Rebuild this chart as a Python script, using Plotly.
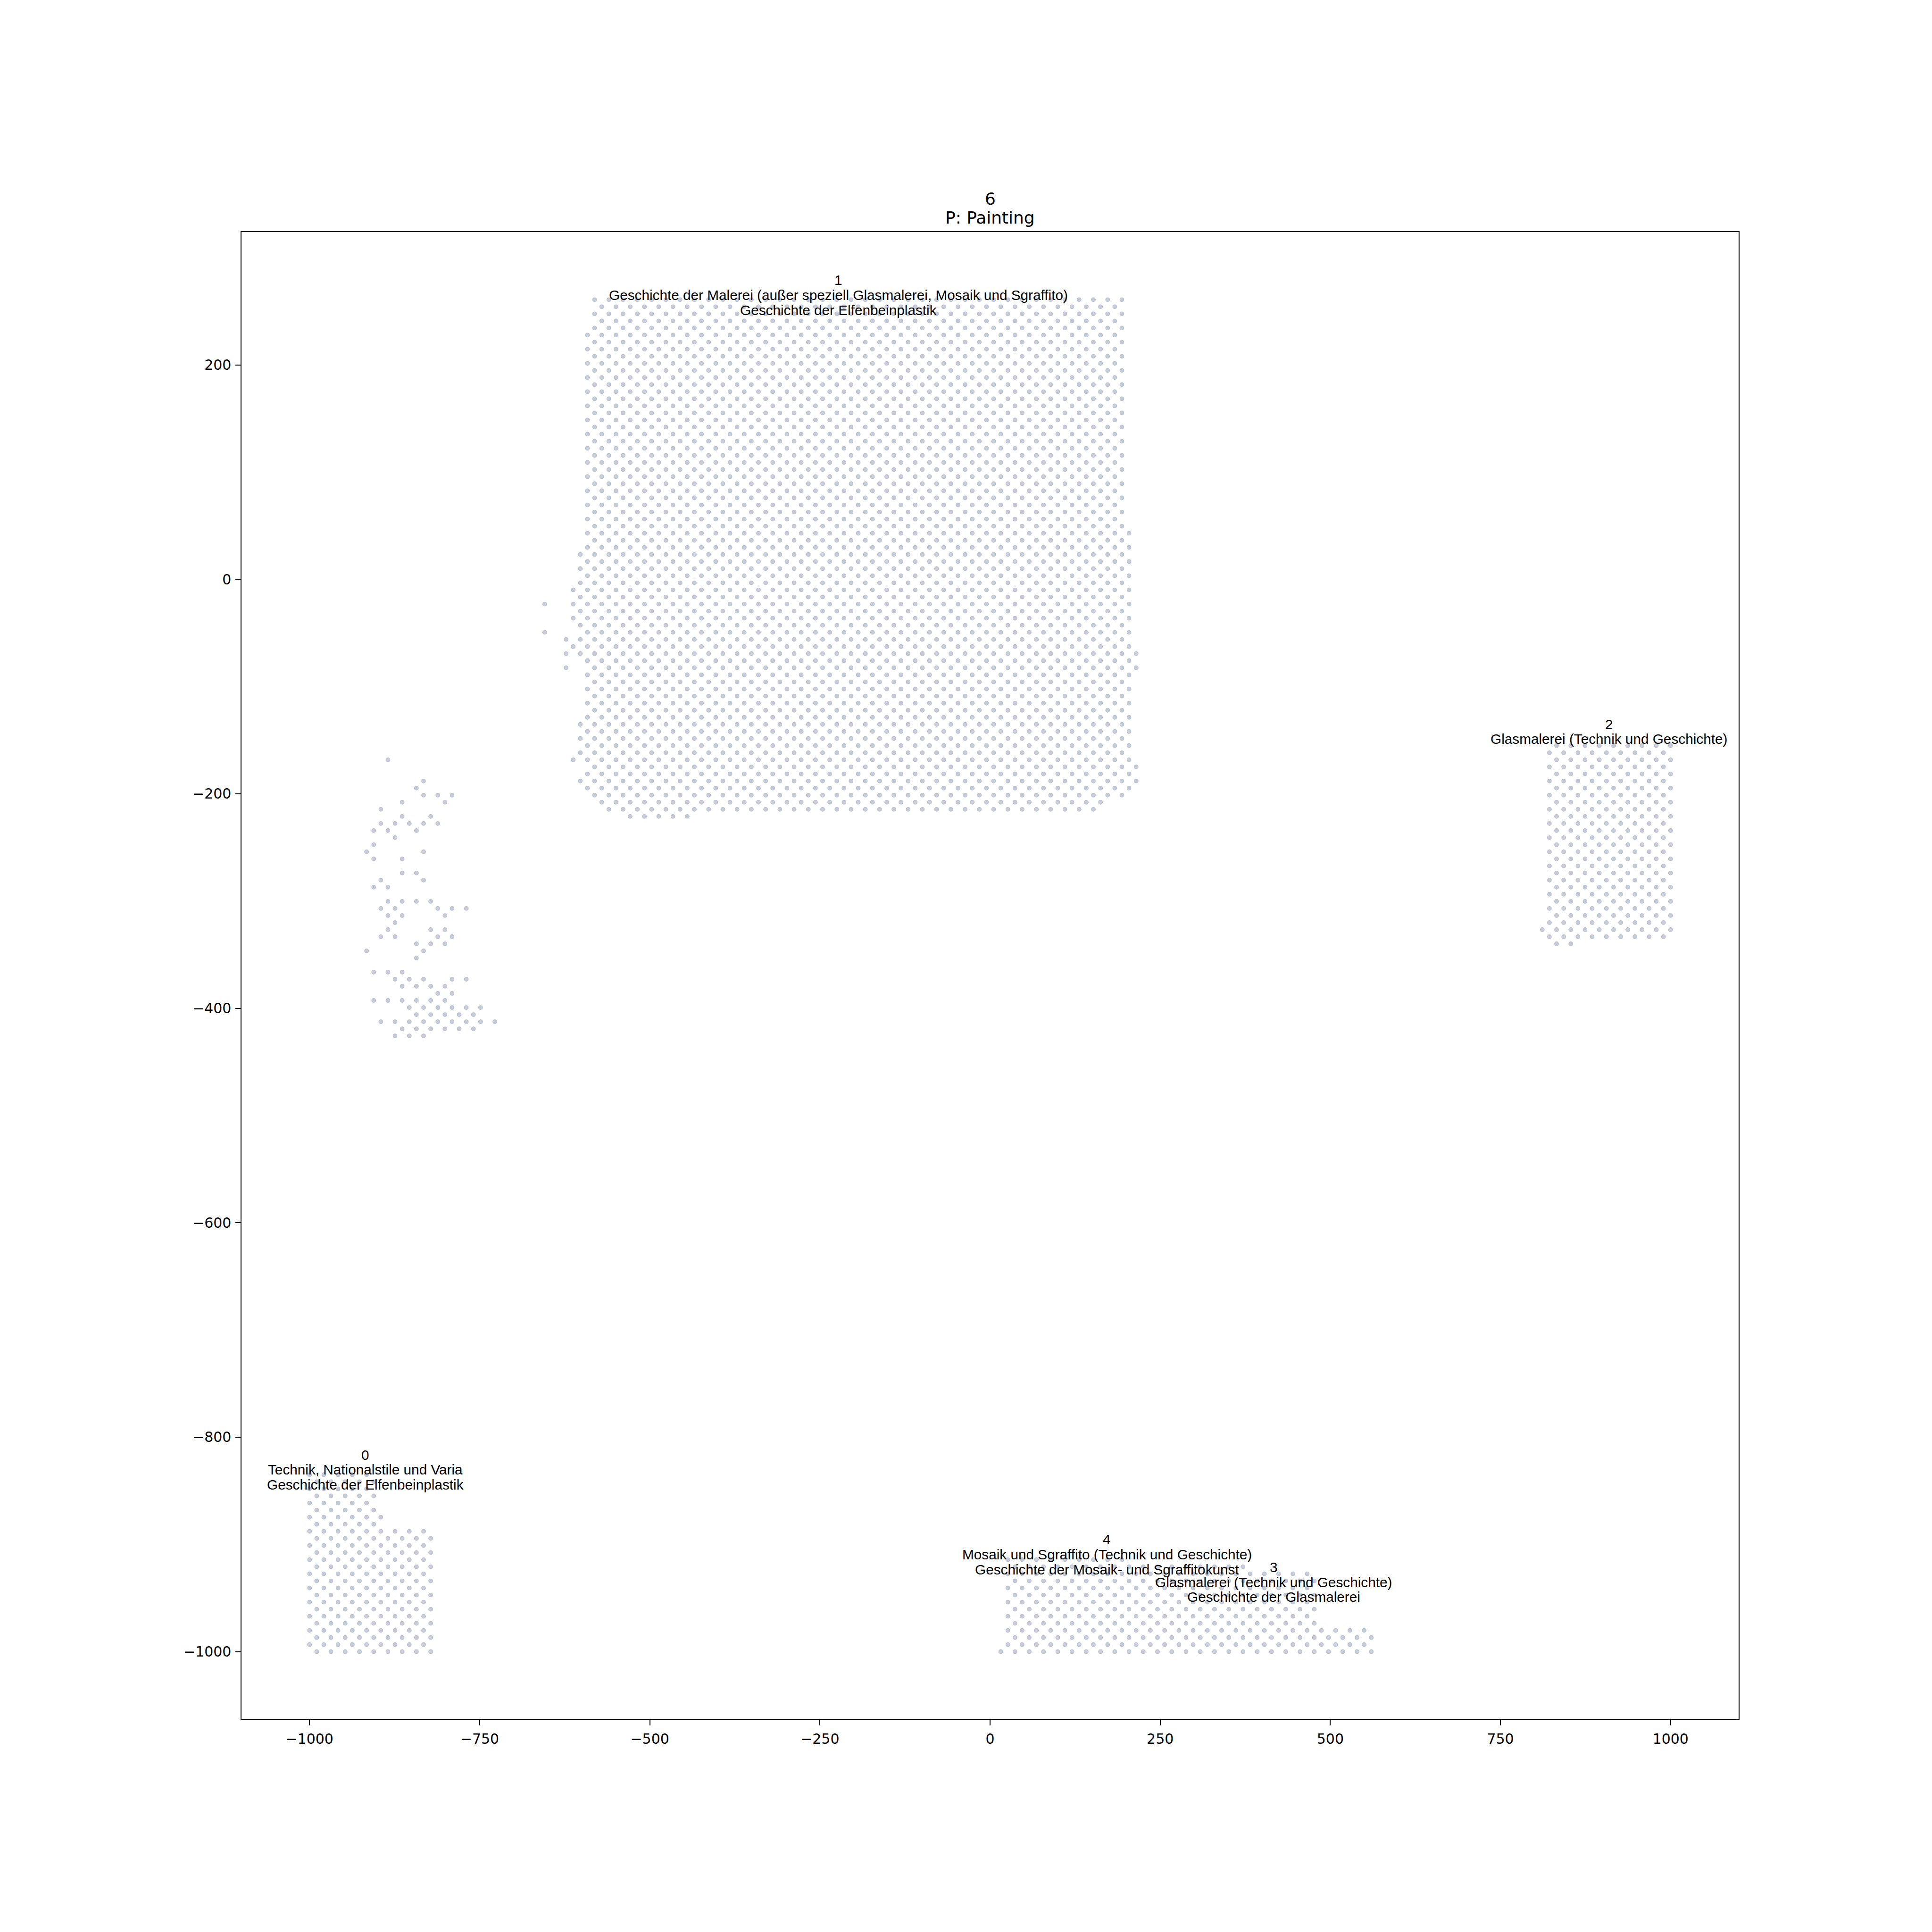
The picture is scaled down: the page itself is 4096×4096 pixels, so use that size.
import plotly.graph_objects as go

# ---------------------------------------------------------------------------
# Data.  Points sit on a hexagonal lattice:
# column index c (half-steps) and row index r.
# ---------------------------------------------------------------------------
X_ORIGIN, X_HALF_STEP = -1000.0, 2000.0 / 191
Y_ORIGIN, Y_ROW_STEP = -1000.0, 1260.8 / 191

# (row, first column, last column) -- every second column in between
CLUSTER_1_ROWS = [
    (191, 40, 114), (190, 41, 113), (189, 40, 114), (188, 41, 113),
    (187, 40, 114), (186, 39, 113), (185, 40, 114), (184, 39, 113),
    (183, 40, 114), (182, 39, 113), (181, 40, 114), (180, 39, 113),
    (179, 40, 114), (178, 39, 113), (177, 40, 114), (176, 39, 113),
    (175, 40, 114), (174, 39, 113), (173, 40, 114), (172, 39, 113),
    (171, 40, 114), (170, 39, 113), (169, 40, 114), (168, 39, 113),
    (167, 40, 114), (166, 39, 113), (165, 40, 114), (164, 39, 113),
    (163, 40, 114), (162, 39, 113), (161, 40, 114), (160, 39, 113),
    (159, 40, 114), (158, 39, 115), (157, 40, 114), (156, 39, 115),
    (155, 38, 114), (154, 39, 115), (153, 38, 114), (152, 39, 115),
    (151, 38, 114), (150, 37, 115), (149, 38, 114), (148, 37, 115),
    (147, 38, 114), (146, 37, 115), (145, 38, 114), (144, 39, 115),
    (143, 36, 114), (142, 37, 115), (141, 36, 116), (140, 39, 115),
    (139, 40, 116), (138, 39, 115), (137, 40, 114), (136, 39, 115),
    (135, 40, 114), (134, 39, 115), (133, 40, 114), (132, 39, 115),
    (131, 38, 114), (130, 39, 115), (129, 38, 114), (128, 39, 115),
    (127, 38, 114), (126, 37, 115), (125, 40, 116), (124, 39, 115),
    (123, 38, 116), (122, 39, 115), (121, 40, 114), (120, 41, 111),
    (119, 42, 110), (118, 45, 53),
]
CLUSTER_1_SINGLE = [(148, 33), (144, 33), (139, 36)]

CLUSTER_2_ROWS = [
    (128, 175, 191), (127, 174, 190), (126, 175, 191), (125, 174, 190),
    (124, 175, 191), (123, 174, 190), (122, 175, 191), (121, 174, 190),
    (120, 175, 191), (119, 174, 190), (118, 175, 191), (117, 174, 190),
    (116, 175, 191), (115, 174, 190), (114, 175, 191), (113, 174, 190),
    (112, 175, 191), (111, 174, 190), (110, 175, 191), (109, 174, 190),
    (108, 175, 191), (107, 174, 190), (106, 175, 191), (105, 174, 190),
    (104, 175, 191), (103, 174, 190), (102, 173, 191), (101, 174, 190),
    (100, 175, 177),
]

CLUSTER_0_ROWS = [
    (25, 0, 8), (24, 1, 9), (23, 0, 8), (22, 1, 9), (21, 0, 8), (20, 1, 9),
    (19, 0, 10), (18, 1, 9), (17, 0, 16), (16, 1, 17), (15, 0, 16),
    (14, 1, 17), (13, 0, 16), (12, 1, 17), (11, 0, 16), (10, 1, 17),
    (9, 0, 16), (8, 1, 17), (7, 0, 16), (6, 1, 17), (5, 0, 16), (4, 1, 17),
    (3, 0, 16), (2, 1, 17), (1, 0, 16), (0, 1, 17),
]

CLUSTER_3_4_ROWS = [
    (13, 98, 114), (12, 99, 131), (11, 98, 140), (10, 99, 141),
    (9, 98, 140), (8, 99, 141), (7, 98, 140), (6, 99, 141), (5, 98, 140),
    (4, 99, 141), (3, 98, 148), (2, 99, 149), (1, 98, 148), (0, 97, 149),
]

UNCLUSTERED = [
    (126, 11), (123, 16), (122, 15), (121, 16), (121, 18), (121, 20),
    (120, 13), (120, 19), (119, 10), (118, 13), (118, 17), (117, 10),
    (117, 12), (117, 14), (117, 16), (117, 18), (116, 9), (116, 11),
    (116, 15), (115, 12), (114, 9), (113, 8), (113, 16), (112, 9),
    (112, 13), (110, 13), (110, 15), (109, 10), (109, 16), (108, 9),
    (108, 11), (106, 11), (106, 13), (106, 15), (106, 17), (105, 10),
    (105, 12), (105, 18), (105, 20), (105, 22), (104, 11), (104, 13),
    (104, 19), (103, 12), (102, 11), (102, 17), (102, 19), (101, 10),
    (101, 12), (101, 18), (101, 20), (100, 15), (100, 17), (100, 19),
    (99, 8), (99, 16), (98, 15), (96, 9), (96, 11), (96, 13), (95, 12),
    (95, 14), (95, 16), (95, 20), (95, 22), (94, 13), (94, 15), (94, 17),
    (94, 19), (93, 18), (93, 20), (92, 9), (92, 11), (92, 13), (92, 15),
    (92, 17), (92, 19), (91, 14), (91, 16), (91, 18), (91, 20), (91, 22),
    (91, 24), (90, 15), (90, 17), (90, 19), (90, 21), (90, 23), (89, 10),
    (89, 12), (89, 14), (89, 16), (89, 18), (89, 20), (89, 22), (89, 24),
    (89, 26), (88, 13), (88, 15), (88, 17), (88, 19), (88, 21), (88, 23),
    (87, 12), (87, 14), (87, 16),
]

# cluster labels: lines of text, centre x, baseline of the last line (data units)
LABEL_LINES = [
    ["1", "Geschichte der Malerei (außer speziell Glasmalerei, Mosaik und Sgraffito)",
     "Geschichte der Elfenbeinplastik"],
    ["2", "Glasmalerei (Technik und Geschichte)"],
    ["0", "Technik, Nationalstile und Varia", "Geschichte der Elfenbeinplastik"],
    ["4", "Mosaik und Sgraffito (Technik und Geschichte)",
     "Geschichte der Mosaik- und Sgraffitokunst"],
    ["3", "Glasmalerei (Technik und Geschichte)", "Geschichte der Glasmalerei"],
]
LABEL_X = [-222.7, 909.4, -918.4, 171.7, 416.7]
LABEL_Y = [246.7, -153.5, -848.8, -927.8, -953.6]

TITLE_LINES = ["6", "P: Painting"]
X_TICKS = [-1000, -750, -500, -250, 0, 250, 500, 750, 1000]
Y_TICKS = [-1000, -800, -600, -400, -200, 0, 200]


def to_xy(row, col):
    return X_ORIGIN + col * X_HALF_STEP, Y_ORIGIN + row * Y_ROW_STEP


xs, ys = [], []
for rows in (CLUSTER_0_ROWS, CLUSTER_1_ROWS, CLUSTER_2_ROWS, CLUSTER_3_4_ROWS):
    for r, c0, c1 in rows:
        for c in range(c0, c1 + 1, 2):
            x, y = to_xy(r, c)
            xs.append(x)
            ys.append(y)
for r, c in CLUSTER_1_SINGLE + UNCLUSTERED:
    x, y = to_xy(r, c)
    xs.append(x)
    ys.append(y)

S = 4096 / 5700.0  # scale factor

fig = go.Figure()
fig.add_trace(go.Scatter(
    x=xs, y=ys, mode="markers", hoverinfo="skip", showlegend=False,
    marker=dict(size=8.3, color="#c8cdd9",
                line=dict(color="#bac0ce", width=1.5)),
))

LABEL_FONT = 41.4 * S
LINE_GAP = 44.2 * S
BASE_SHIFT = -0.24 * LABEL_FONT

annotations = []
for lines, lx, ly in zip(LABEL_LINES, LABEL_X, LABEL_Y):
    n = len(lines)
    for k, txt in enumerate(lines):
        annotations.append(dict(
            x=lx, y=ly, xref="x", yref="y", text=txt, showarrow=False,
            xanchor="center", yanchor="bottom", borderpad=0,
            yshift=BASE_SHIFT + (n - 1 - k) * LINE_GAP,
            font=dict(family="Liberation Sans, Arial, sans-serif",
                      size=LABEL_FONT, color="black"),
        ))

TITLE_FONT = 50.0 * S
for k, txt in enumerate(TITLE_LINES):
    annotations.append(dict(
        x=0.5, y=1.0, xref="paper", yref="paper", text=txt, showarrow=False,
        xanchor="center", yanchor="bottom", borderpad=0,
        yshift=25 * S - 0.24 * TITLE_FONT + (len(TITLE_LINES) - 1 - k) * 55 * S,
        font=dict(family="DejaVu Sans, sans-serif", size=TITLE_FONT, color="black"),
    ))


def minus(v):
    return str(v).replace("-", "\u2212")


axis_common = dict(
    showgrid=False, zeroline=False, showline=True, linecolor="black",
    linewidth=0.8 * 300 / 72 * S, mirror=True, ticks="outside",
    ticklen=3.5 * 300 / 72 * S, tickwidth=0.8 * 300 / 72 * S, tickcolor="black",
    tickfont=dict(family="DejaVu Sans, sans-serif", size=41.67 * S, color="black"),
    ticklabelstandoff=3,
)

fig.update_layout(
    width=4096, height=4096,
    margin=dict(l=712.5 * S, r=(5700 - 5130) * S, t=684 * S, b=(5700 - 5073) * S,
                autoexpand=False),
    paper_bgcolor="white", plot_bgcolor="white",
    xaxis=dict(range=[-1100, 1100], tickvals=X_TICKS,
               ticktext=[minus(v) for v in X_TICKS], **axis_common),
    yaxis=dict(range=[-1063.04, 323.84], tickvals=Y_TICKS,
               ticktext=[minus(v) for v in Y_TICKS], **axis_common),
    annotations=annotations,
)

fig.write_html("out.html")
